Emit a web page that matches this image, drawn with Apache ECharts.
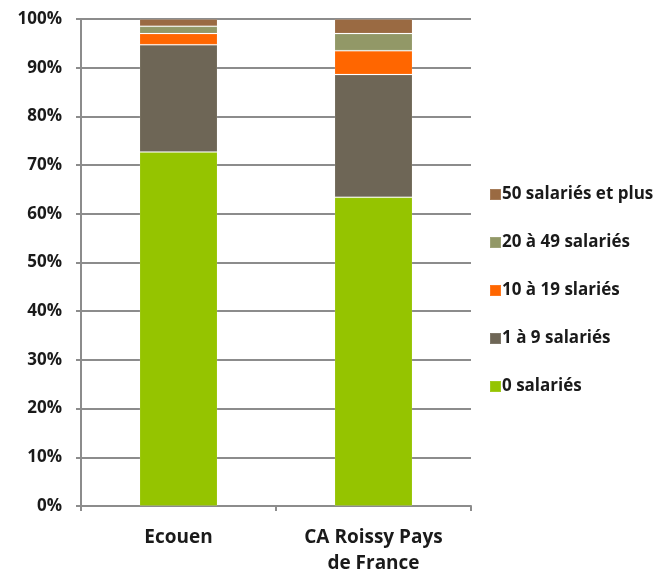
<!DOCTYPE html>
<html>
<head>
<meta charset="utf-8">
<script src="https://cdn.jsdelivr.net/npm/echarts@6/dist/echarts.min.js"></script>
<style>
html,body{margin:0;padding:0;background:#fff;}
#c{width:661px;height:572px;}
</style>
</head>
<body>
<div id="c"></div>
<script>
const categories = ['Ecouen', 'CA Roissy Pays\nde France'];
const yTicks = ['0%','10%','20%','30%','40%','50%','60%','70%','80%','90%','100%'];
const s0 = [72.7, 63.4];   // 0 salariés
const s1 = [22.0, 25.2];   // 1 à 9 salariés
const s2 = [2.3, 4.9];     // 10 à 19 slariés
const s3 = [1.5, 3.5];     // 20 à 49 salariés
const s4 = [1.5, 3.0];     // 50 salariés et plus
const seriesNames = ['0 salariés', '1 à 9 salariés', '10 à 19 slariés', '20 à 49 salariés', '50 salariés et plus'];
const seriesData = [s0, s1, s2, s3, s4];
const colors = ['#95c400', '#6e6656', '#ff6600', '#929867', '#9a6a42'];

const font = '"Open Sans", sans-serif';
const chart = echarts.init(document.getElementById('c'));
chart.setOption({
  animation: false,
  grid: {left: 81, right: 190, top: 19, bottom: 66, outerBoundsMode: 'none', containLabel: false},
  legend: {
    orient: 'vertical',
    left: 484,
    top: 181,
    itemWidth: 11,
    itemHeight: 11,
    itemGap: 31,
    icon: 'rect',
    data: seriesNames.slice().reverse(),
    textStyle: {fontFamily: font, fontWeight: 'bold', fontSize: 17, lineHeight: 17, color: '#1a1a1a', padding: [0,0,0,-4]}
  },
  xAxis: {
    type: 'category',
    data: categories,
    axisLine: {lineStyle: {color: '#8c8c8c', width: 2}},
    axisTick: {show: true, length: 5, lineStyle: {color: '#8c8c8c', width: 2}},
    axisLabel: {fontFamily: font, fontWeight: 'bold', fontSize: 19, color: '#1a1a1a', margin: 19, lineHeight: 26}
  },
  yAxis: {
    type: 'value',
    min: 0, max: 100, interval: 10,
    axisLine: {show: true, lineStyle: {color: '#8c8c8c', width: 2}},
    axisTick: {show: true, length: 5, lineStyle: {color: '#8c8c8c', width: 2}},
    splitLine: {lineStyle: {color: '#8c8c8c', width: 2}},
    axisLabel: {fontFamily: font, fontWeight: 'bold', fontSize: 17, color: '#1a1a1a', margin: 19,
      formatter: (v) => yTicks[Math.round(v / 10)]}
  },
  series: seriesNames.map((n, i) => ({
    name: n,
    type: 'bar',
    stack: 'total',
    barWidth: '40%',
    data: seriesData[i],
    itemStyle: {color: colors[i], borderColor: 'rgba(255,255,255,0.12)', borderWidth: 1}
  }))
});
</script>
</body>
</html>
